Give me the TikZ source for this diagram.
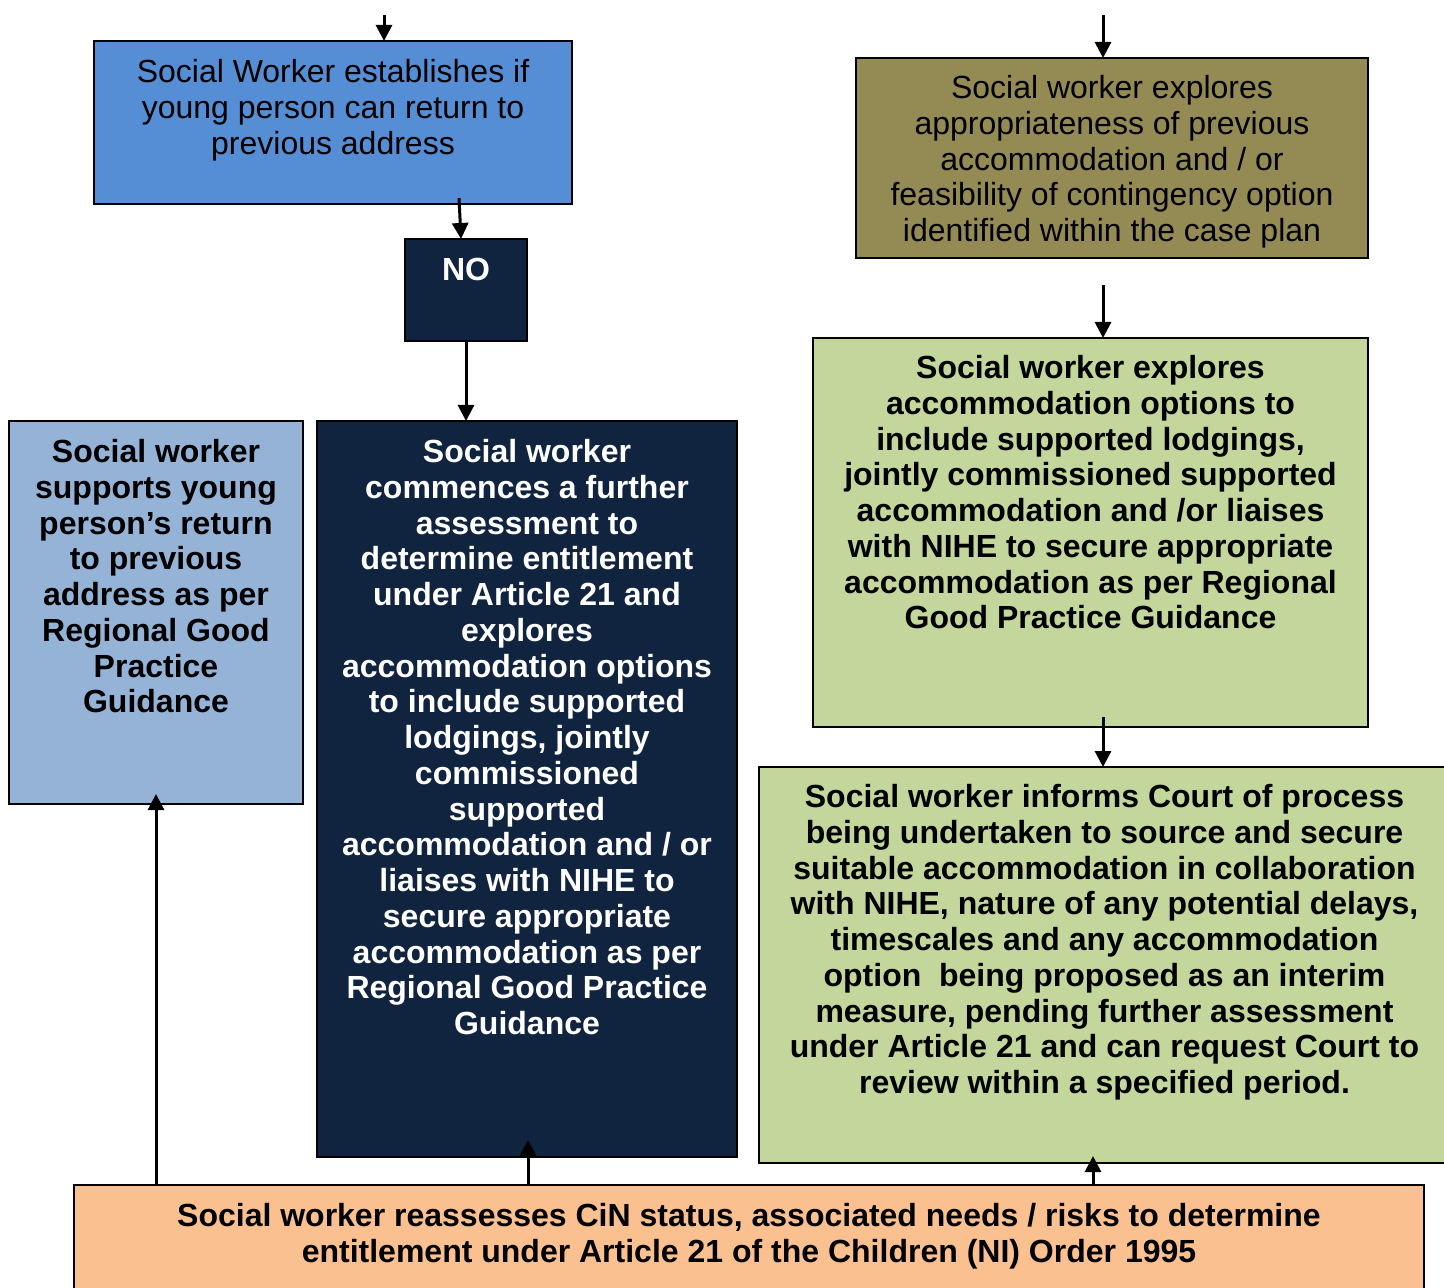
\documentclass[tikz,border=0pt]{standalone}
\usepackage{fontspec}
\setmainfont{Liberation Sans}
\usetikzlibrary{arrows.meta,calc}

\definecolor{cBlue}{HTML}{558ED5}
\definecolor{cNavy}{HTML}{10243F}
\definecolor{cSky}{HTML}{95B3D7}
\definecolor{cOlive}{HTML}{948A54}
\definecolor{cLime}{HTML}{C3D69B}
\definecolor{cPeach}{HTML}{FAC090}

\tikzset{
  box/.style={draw=black, line width=1pt, rectangle, inner sep=0pt, outer sep=0pt, anchor=north west},
  txt/.style={anchor=north, align=center, inner sep=0pt, font=\fontsize{16}{17.875}\selectfont},
  bold/.style={txt, font=\fontsize{16}{17.875}\selectfont\bfseries},
  arr/.style={line width=1.5pt, -{Triangle[width=8pt,length=8pt]}},
}

\begin{document}
\begin{tikzpicture}[x=0.5pt,y=-0.5pt]
\clip (0,0) rectangle (1444,1288);

% boxes
\node[box, fill=cBlue,  minimum width=239pt,   minimum height=81.5pt]  (blue)   at (94,41)   {};
\node[box, fill=cNavy,  minimum width=61pt,    minimum height=51pt]    (no)     at (405,239) {};
\node[box, fill=cSky,   minimum width=147pt,   minimum height=191.5pt] (sky)    at (9,421)   {};
\node[box, fill=cNavy,  minimum width=210pt,   minimum height=368pt]   (navy)   at (317,421) {};
\node[box, fill=cOlive, minimum width=256pt,   minimum height=100pt]   (olive)  at (856,58)  {};
\node[box, fill=cLime,  minimum width=277.5pt, minimum height=194.5pt] (limeA)  at (813,338) {};
\node[box, fill=cLime,  minimum width=345.5pt, minimum height=198pt]   (limeB)  at (759,767) {};
\node[box, fill=cPeach, minimum width=675pt,   minimum height=60pt]    (peach)  at (74,1185) {};

% texts
\node[txt] (blue-t) at ($(blue.north)+(0,18)$) {Social Worker establishes if\\young person can return to\\previous address};
\node[bold, text=white] (no-t) at ($(no.north)+(0,19)$) {NO};
\node[bold] (sky-t) at ($(sky.north)+(0,18)$) {Social worker\\supports young\\person’s return\\to previous\\address as per\\Regional Good\\Practice\\Guidance};
\node[bold, text=white] (navy-t) at ($(navy.north)+(0,18)$) {Social worker\\commences a further\\assessment to\\determine entitlement\\under Article 21 and\\explores\\accommodation options\\to include supported\\lodgings, jointly\\commissioned\\supported\\accommodation and / or\\liaises with NIHE to\\secure appropriate\\accommodation as per\\Regional Good Practice\\Guidance};
\node[txt] (olive-t) at ($(olive.north)+(0,17)$) {Social worker explores\\appropriateness of previous\\accommodation and / or\\feasibility of contingency option\\identified within the case plan};
\node[bold] (limeA-t) at ($(limeA.north)+(0,17)$) {Social worker explores\\accommodation options to\\include supported lodgings,\\jointly commissioned supported\\accommodation and /or liaises\\with NIHE to secure appropriate\\accommodation as per Regional\\Good Practice Guidance};
\node[bold] (limeB-t) at ($(limeB.north)+(0,17)$) {Social worker informs Court of process\\being undertaken to source and secure\\suitable accommodation in collaboration\\with NIHE, nature of any potential delays,\\timescales and any accommodation\\option \ being proposed as an interim\\measure, pending further assessment\\under Article 21 and can request Court to\\review within a specified period.};
\node[bold] (peach-t) at ($(peach.north)+(0,18)$) {Social worker reassesses CiN status, associated needs / risks to determine\\entitlement under Article 21 of the Children (NI) Order 1995};

% free ends of the incoming arrows
\coordinate (inA) at (384,15);
\coordinate (inB) at (1103,15);

% connectors
\draw[arr] (inA) -- (blue.north -| inA);
\draw[arr] (inB) -- (olive.north -| inB);
\draw[arr] ($(blue.south -| 459,0)+(0,-6)$) -- (no.north -| 461,0);
\draw[arr] (no.south) -- (navy.north -| no.south);
\draw[arr] ($(olive.south -| inB)+(0,27)$) -- (limeA.north -| inB);
\draw[arr] ($(limeA.south -| inB)+(0,-10)$) -- (limeB.north -| inB);
\draw[arr] (peach.north -| sky.south) -- ($(sky.south)+(0,-10)$);
\draw[arr] (peach.north -| 528,0) -- ($(navy.south -| 528,0)+(0,-17)$);
\draw[arr] (peach.north -| 1093,0) -- ($(limeB.south -| 1093,0)+(0,-7)$);
\end{tikzpicture}
\end{document}
